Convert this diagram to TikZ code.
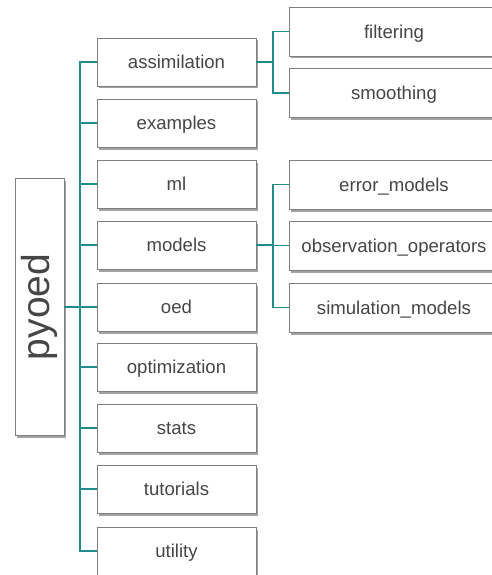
\documentclass[tikz,border=0pt]{standalone}
\usepackage{fontspec}
\setmainfont{Liberation Sans}
\usetikzlibrary{shadows}
\definecolor{linkteal}{RGB}{30,140,138}
\definecolor{boxgray}{RGB}{128,128,128}
\definecolor{textgray}{RGB}{70,70,70}
\begin{document}
\begin{tikzpicture}[x=1pt,y=-1pt]
	\tikzstyle{Node} = [rectangle, minimum width=159pt, minimum height=48pt, inner sep=0pt, text centered, text height=13.5pt, text depth=0pt, draw=boxgray, fill=white, text=textgray, font=\fontsize{18.6}{20}\selectfont, drop shadow={shadow xshift=2pt, shadow yshift=-2.5pt, fill=black!45, opacity=0.8}]
	\tikzstyle{SubNode} = [Node, minimum width=210pt, minimum height=49pt]
	\tikzstyle{link} = [line width=1.5pt, draw=linkteal]
	
	\useasboundingbox (0,0) rectangle (491,575);
	
	\node (pyoed) [Node, minimum width=49pt, minimum height=257pt, text height=, text depth=, font=\fontsize{39}{40}\selectfont] at (39.5,307) {\rotatebox{90}{pyoed}};
	
	\node (assim) [Node] at (176.5,62) {assimilation};
	\node (examples) [Node] at (176.5,123) {examples};
	\node (ml) [Node] at (176.5,184) {ml};
	\node (models) [Node] at (176.5,245) {models};
	\node (oed) [Node] at (176.5,307) {oed};
	\node (optim) [Node] at (176.5,367) {optimization};
	\node (stats) [Node] at (176.5,428) {stats};
	\node (tutorials) [Node] at (176.5,489) {tutorials};
	\node (utility) [Node] at (176.5,551) {utility};
	
	\node (filtering) [SubNode] at (394,31.5) {filtering};
	\node (smoothing) [SubNode] at (394,93) {smoothing};
	\node (errmodels) [SubNode] at (394,184.5) {error\_models};
	\node (obsops) [SubNode] at (394,245.5) {observation\_operators};
	\node (simmodels) [SubNode] at (394,307.5) {simulation\_models};
	
	\coordinate (spine) at (80,307);
	\coordinate (assimfork) at (273,62);
	\coordinate (modelsfork) at (273,245);
	
	\foreach \n in {assim,examples,ml,models,oed,optim,stats,tutorials,utility}
		\draw [link] (pyoed.east) -- (spine) |- (\n.west);
	\draw [link] (assim.east) -- (assimfork) |- (filtering.west);
	\draw [link] (assimfork) |- (smoothing.west);
	\draw [link] (models.east) -- (modelsfork) |- (errmodels.west);
	\draw [link] (modelsfork) |- (obsops.west);
	\draw [link] (modelsfork) |- (simmodels.west);
\end{tikzpicture}
\end{document}
